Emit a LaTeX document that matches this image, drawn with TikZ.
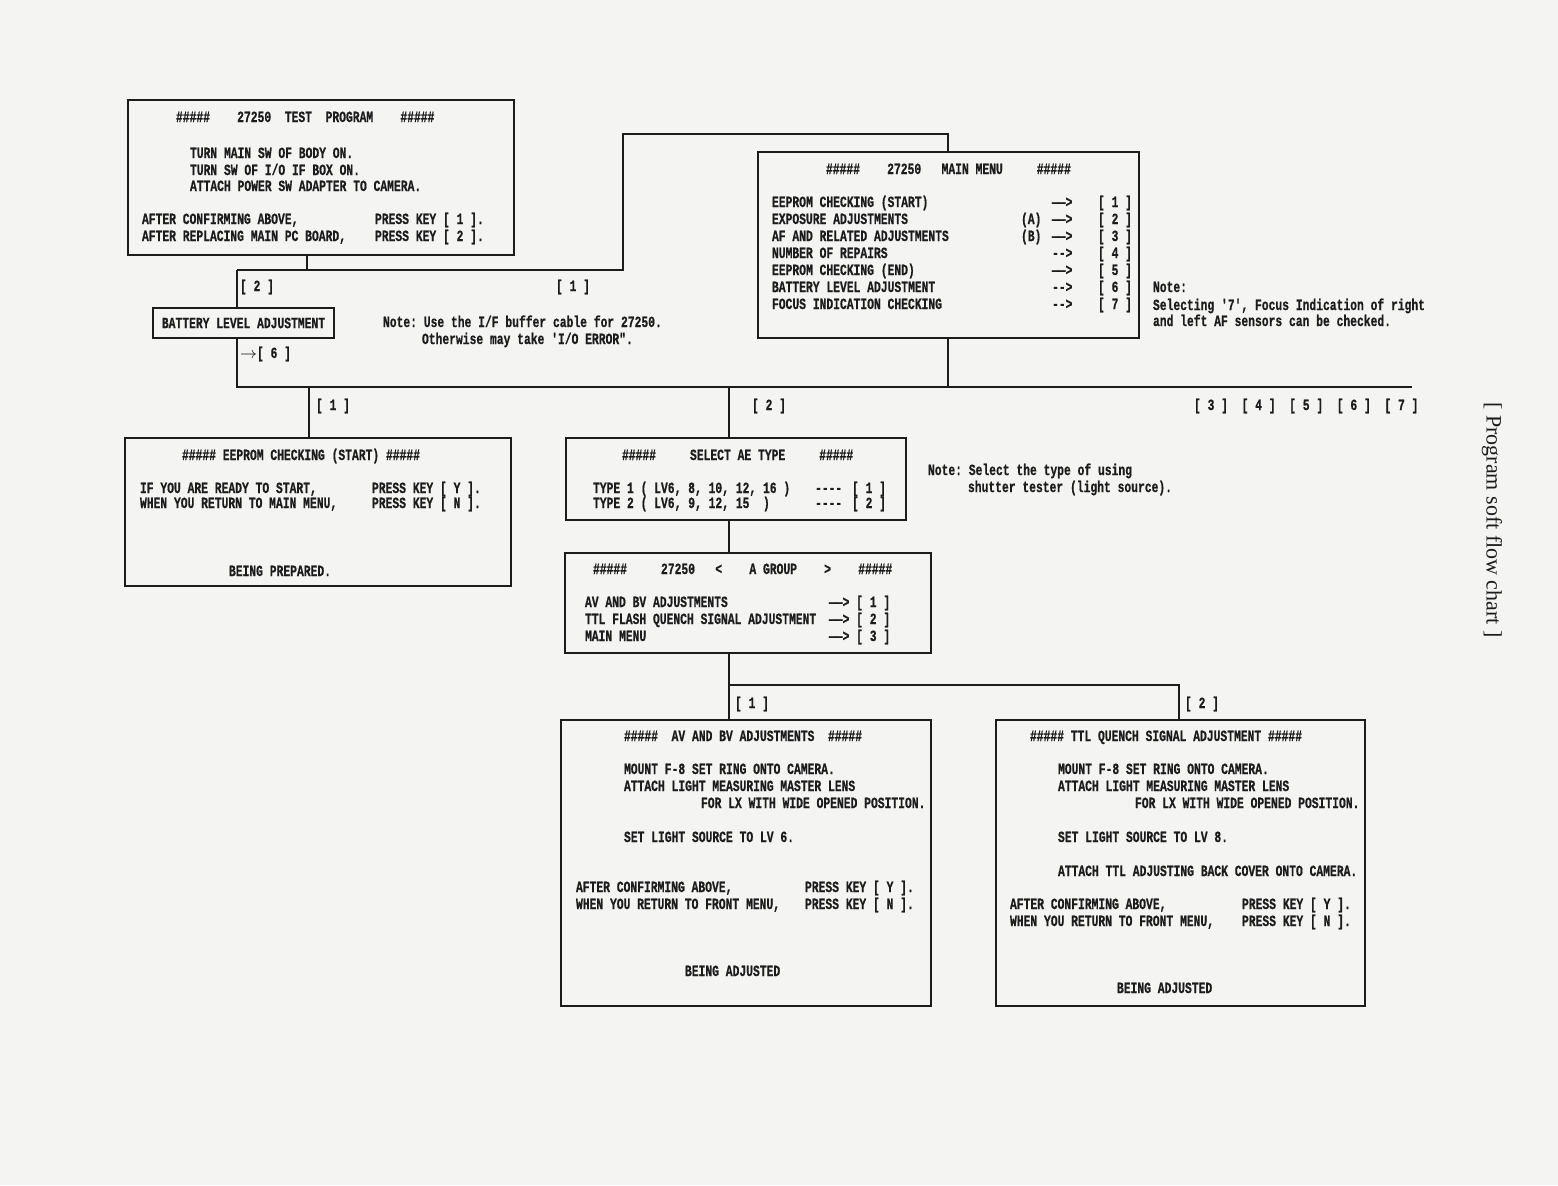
\documentclass[tikz,border=0pt]{standalone}
\usepackage{fontspec}
\setmonofont[FakeStretch=0.7265,FakeBold=0.6]{Liberation Mono}
\newfontfamily\titlefont{Liberation Serif}
\usetikzlibrary{calc}
\definecolor{paper}{RGB}{244,244,243}
\definecolor{ink}{RGB}{28,28,28}
\newcommand\mono{\fontsize{7.8}{9}\selectfont\ttfamily\bfseries}
\newcommand\hh{\#\#\#\#\#}
\newcounter{tnum}
\tikzset{
  box/.style={draw=ink, line width=1pt, fill=paper, inner sep=0pt, outer sep=0pt, font=\mono, text=ink},
  wire/.style={draw=ink, line width=1pt},
  txt/.style={anchor=base west, inner sep=0pt, outer sep=0pt, text=ink, font=\mono},
}
\newcommand\tx[4][]{\stepcounter{tnum}\node[txt,#1] (t\arabic{tnum}) at (#2,{#3+5}) {#4};}
\newcommand\bx[6]{\node[box, minimum width={(#4-#2)*0.5pt}, minimum height={(#5-#3)*0.5pt}] (#1) at ({(#2+#4)/2},{(#3+#5)/2}) {#6};}
\begin{document}
\begin{tikzpicture}[x=0.5pt,y=-0.5pt]
\fill[paper] (0,0) rectangle (1558,1185);
\useasboundingbox (0,0) rectangle (1558,1185);

% boxes
\bx{test}{128}{100}{514}{255}{}
\bx{menu}{758}{152}{1139}{338}{}
\bx{eep}{125}{438}{511}{586}{}
\bx{aet}{566}{438}{906}{520}{}
\bx{agr}{565}{553}{931}{653}{}
\bx{av}{561}{720}{931}{1006}{}
\bx{ttl}{996}{720}{1365}{1006}{}

% junctions
\coordinate (jA) at (307,270);
\coordinate (jL) at (237,270);
\coordinate (jR) at (623,270);
\coordinate (jT) at (948,134);
\coordinate (busL) at (237,387);
\coordinate (busR) at (1412,387);
\coordinate (b1) at (309,387);
\coordinate (b2) at (729,387);
\coordinate (bm) at (948,387);
\coordinate (j5) at (729,685);
\coordinate (j6) at (1179,685);

% connectors
\draw[wire] (test.south -| jA) -- (jA);
\draw[wire] (jL) -- (jR) |- (jT) -- (menu.north -| jT);
\draw[wire] (jL) -- (busL) -- (busR);
\draw[wire] (menu.south -| bm) -- (bm);
\draw[wire] (b1) -- (eep.north -| b1);
\draw[wire] (b2) -- (aet.north -| b2);
\draw[wire] (aet.south -| b2) -- (agr.north -| b2);
\draw[wire] (agr.south -| b2) -- (av.north -| b2);
\draw[wire] (j5) -- (j6) -- (ttl.north -| j6);

\bx{batt}{153}{308}{334}{338}{BATTERY LEVEL ADJUSTMENT}

% test program box
\tx{176}{117}{\hh~~~~27250~~TEST~~PROGRAM~~~~\hh}
\tx{190}{153}{TURN MAIN SW OF BODY ON.}
\tx{190}{170}{TURN SW OF I/O IF BOX ON.}
\tx{190}{186}{ATTACH POWER SW ADAPTER TO CAMERA.}
\tx{142}{219}{AFTER CONFIRMING ABOVE,}
\tx{375}{219}{PRESS KEY [ 1 ].}
\tx{142}{236}{AFTER REPLACING MAIN PC BOARD,}
\tx{375}{236}{PRESS KEY [ 2 ].}

% labels near battery
\tx{240}{286}{[ 2 ]}
\tx{556}{286}{[ 1 ]}
\tx{383}{322}{Note: Use the I/F buffer cable for 27250.}
\tx{422}{339}{Otherwise may take 'I/O ERROR".}
\tx{240}{353}{$\rightarrow$[ 6 ]}

% main menu
\tx{826}{169}{\hh~~~~27250~~~MAIN MENU~~~~~\hh}
\tx{772}{202}{EEPROM CHECKING (START)}
\tx{772}{219}{EXPOSURE ADJUSTMENTS}
\tx{772}{236}{AF AND RELATED ADJUSTMENTS}
\tx{772}{253}{NUMBER OF REPAIRS}
\tx{772}{270}{EEPROM CHECKING (END)}
\tx{772}{287}{BATTERY LEVEL ADJUSTMENT}
\tx{772}{304}{FOCUS INDICATION CHECKING}
\tx{1021}{219}{(A)}
\tx{1021}{236}{(B)}
\tx{1052}{202}{——>}
\tx{1052}{219}{——>}
\tx{1052}{236}{——>}
\tx{1052}{253}{-->}
\tx{1052}{270}{——>}
\tx{1052}{287}{-->}
\tx{1052}{304}{-->}
\tx{1098}{202}{[ 1 ]}
\tx{1098}{219}{[ 2 ]}
\tx{1098}{236}{[ 3 ]}
\tx{1098}{253}{[ 4 ]}
\tx{1098}{270}{[ 5 ]}
\tx{1098}{287}{[ 6 ]}
\tx{1098}{304}{[ 7 ]}
\tx{1153}{287}{Note:}
\tx{1153}{305}{Selecting '7', Focus Indication of right}
\tx{1153}{321}{and left AF sensors can be checked.}

% bus labels
\tx{316}{405}{[ 1 ]}
\tx{752}{405}{[ 2 ]}
\tx{1194}{405}{[ 3 ]~~[ 4 ]~~[ 5 ]~~[ 6 ]~~[ 7 ]}

% eeprom box
\tx{182}{455}{\hh~EEPROM CHECKING (START)~\hh}
\tx{140}{488}{IF YOU ARE READY TO START,}
\tx{372}{488}{PRESS KEY [ Y ].}
\tx{140}{503}{WHEN YOU RETURN TO MAIN MENU,}
\tx{372}{503}{PRESS KEY [ N ].}
\tx{229}{571}{BEING PREPARED.}

% select AE type
\tx{622}{455}{\hh~~~~~SELECT AE TYPE~~~~~\hh}
\tx{593}{488}{TYPE 1 ( LV6, 8, 10, 12, 16 )}
\tx{593}{503}{TYPE 2 ( LV6, 9, 12, 15~~)}
\tx{815}{488}{----}
\tx{815}{503}{----}
\tx{852}{488}{[ 1 ]}
\tx{852}{503}{[ 2 ]}
\tx{928}{470}{Note: Select the type of using}
\tx{968}{487}{shutter tester (light source).}

% A group
\tx{593}{569}{\hh~~~~~27250~~~<~~~~A GROUP~~~~>~~~~\hh}
\tx{585}{602}{AV AND BV ADJUSTMENTS}
\tx{585}{619}{TTL FLASH QUENCH SIGNAL ADJUSTMENT}
\tx{585}{636}{MAIN MENU}
\tx{829}{602}{——> [ 1 ]}
\tx{829}{619}{——> [ 2 ]}
\tx{829}{636}{——> [ 3 ]}

\tx{735}{703}{[ 1 ]}
\tx{1185}{703}{[ 2 ]}

% AV box
\tx{624}{736}{\hh~~AV AND BV ADJUSTMENTS~~\hh}
\tx{624}{769}{MOUNT F-8 SET RING ONTO CAMERA.}
\tx{624}{786}{ATTACH LIGHT MEASURING MASTER LENS}
\tx{701}{803}{FOR LX WITH WIDE OPENED POSITION.}
\tx{624}{837}{SET LIGHT SOURCE TO LV 6.}
\tx{576}{887}{AFTER CONFIRMING ABOVE,}
\tx{805}{887}{PRESS KEY [ Y ].}
\tx{576}{904}{WHEN YOU RETURN TO FRONT MENU,}
\tx{805}{904}{PRESS KEY [ N ].}
\tx{685}{971}{BEING ADJUSTED}

% TTL box
\tx{1030}{736}{\hh~TTL QUENCH SIGNAL ADJUSTMENT~\hh}
\tx{1058}{769}{MOUNT F-8 SET RING ONTO CAMERA.}
\tx{1058}{786}{ATTACH LIGHT MEASURING MASTER LENS}
\tx{1135}{803}{FOR LX WITH WIDE OPENED POSITION.}
\tx{1058}{837}{SET LIGHT SOURCE TO LV 8.}
\tx{1058}{871}{ATTACH TTL ADJUSTING BACK COVER ONTO CAMERA.}
\tx{1010}{904}{AFTER CONFIRMING ABOVE,}
\tx{1242}{904}{PRESS KEY [ Y ].}
\tx{1010}{921}{WHEN YOU RETURN TO FRONT MENU,}
\tx{1242}{921}{PRESS KEY [ N ].}
\tx{1117}{988}{BEING ADJUSTED}

% title
\node[font=\titlefont\fontsize{11}{13}\selectfont, rotate=-90, text=ink, inner sep=0pt] (title) at (1492,520) {[ Program soft flow chart ]};
\end{tikzpicture}
\end{document}
